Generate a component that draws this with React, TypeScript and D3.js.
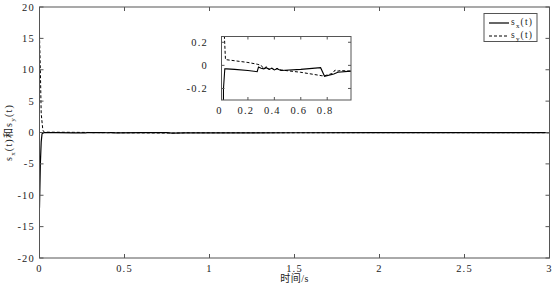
import React from 'react';
import * as d3 from 'd3';

// s_x(t): solid line
const sxTime = [0, 0.005, 0.01, 0.015, 0.025, 0.04, 0.1, 0.2, 0.27, 0.28, 0.3, 0.32, 0.34, 0.36, 0.38, 0.4, 0.42, 0.45, 0.6, 0.75, 0.78, 0.85, 0.88, 0.98, 1.5, 2, 2.5, 3];
const sxValue = [-12, -5, -1.5, -0.2, -0.03, -0.03, -0.035, -0.045, -0.055, -0.015, -0.025, -0.03, -0.02, -0.035, -0.025, -0.04, -0.03, -0.045, -0.035, -0.02, -0.095, -0.075, -0.06, -0.05, -0.04, -0.03, -0.03, -0.03];

// s_y(t): dashed line
const syTime = [0, 0.005, 0.01, 0.02, 0.03, 0.1, 0.2, 0.27, 0.3, 0.32, 0.34, 0.36, 0.38, 0.4, 0.42, 0.45, 0.6, 0.76, 0.78, 0.84, 0.86, 0.88, 0.9, 0.98, 1.5, 2, 2.5, 3];
const syValue = [15.5, 10, 3, 0.3, 0.05, 0.04, 0.025, 0.01, 0.0, -0.03, -0.01, -0.035, -0.02, -0.04, -0.025, -0.04, -0.06, -0.09, -0.09, -0.07, -0.04, -0.05, -0.045, -0.05, -0.04, -0.03, -0.03, -0.03];

const xTicks = [0, 0.5, 1, 1.5, 2, 2.5, 3];
const yTicks = [20, 15, 10, 5, 0, -5, -10, -15, -20];
const insetXTicks = [0, 0.2, 0.4, 0.6, 0.8];
const insetYTicks = [0.2, 0, -0.2];

const W = 555;
const H = 286;
const axisColor = '#555';
const font = '"Liberation Serif", "Noto Sans CJK SC", serif';
const ls = 1.2; // wide spacing like the original's half-width glyphs

const sx = sxTime.map((t, i) => [t, sxValue[i]] as [number, number]);
const sy = syTime.map((t, i) => [t, syValue[i]] as [number, number]);

const App = () => {
  const x = d3.scaleLinear().domain([0, 3]).range([39.5, 549.5]);
  const y = d3.scaleLinear().domain([-20, 20]).range([258, 7]);

  const ix = d3.scaleLinear().domain([0, 0.98]).range([221.5, 351]);
  const iy = d3.scaleLinear().domain([-0.3, 0.25]).range([100, 36.5]);

  const line = d3.line().x(d => x(d[0])).y(d => y(d[1]));
  const iline = d3.line().x(d => ix(d[0])).y(d => iy(d[1]));

  const tl = 4;

  return (
    <svg width={W} height={H} style={{ position: 'absolute', left: 0, top: 0, background: '#fff' }}
      fontFamily={font}>
      <defs>
        <clipPath id="main-clip">
          <rect x={x(0)} y={y(20)} width={x(3) - x(0)} height={y(-20) - y(20)} />
        </clipPath>
        <clipPath id="inset-clip">
          <rect x={ix(0)} y={iy(0.25)} width={ix(0.98) - ix(0)} height={iy(-0.3) - iy(0.25)} />
        </clipPath>
      </defs>

      {/* main axes */}
      <rect x={x(0)} y={y(20)} width={x(3) - x(0)} height={y(-20) - y(20)} fill="#fff" />
      <g clipPath="url(#main-clip)" fill="none" stroke="#000">
        <path d={line(sx) || ''} strokeWidth={1.2} />
        <path d={line(sy) || ''} strokeWidth={1} strokeDasharray="3,2" />
      </g>
      <rect x={x(0)} y={y(20)} width={x(3) - x(0)} height={y(-20) - y(20)} fill="none" stroke={axisColor} strokeWidth={1} />
      {xTicks.map(t => (
        <g key={'xt' + t}>
          <line x1={x(t)} x2={x(t)} y1={y(-20)} y2={y(-20) - tl} stroke={axisColor} />
          <line x1={x(t)} x2={x(t)} y1={y(20)} y2={y(20) + tl} stroke={axisColor} />
          <text x={x(t)} y={272} fontSize={10.5} letterSpacing={ls} textAnchor="middle" fill="#222">{String(t)}</text>
        </g>
      ))}
      {yTicks.map(v => (
        <g key={'yt' + v}>
          <line x1={x(0)} x2={x(0) + tl} y1={y(v)} y2={y(v)} stroke={axisColor} />
          <line x1={x(3)} x2={x(3) - tl} y1={y(v)} y2={y(v)} stroke={axisColor} />
          <text x={35} y={y(v) + 3.5} fontSize={10.5} letterSpacing={ls} textAnchor="end" fill="#222">{String(v)}</text>
        </g>
      ))}
      <text x={(x(0) + x(3)) / 2} y={282} fontSize={10} letterSpacing={0.5} textAnchor="middle" fill="#222">时间/s</text>
      <text transform={`translate(12,${(y(20) + y(-20)) / 2}) rotate(-90)`} fontSize={10} letterSpacing={ls} textAnchor="middle" fill="#222">
        s<tspan fontSize={7} dy={3}>x</tspan><tspan dy={-3}>(t)和s</tspan><tspan fontSize={7} dy={3}>y</tspan><tspan dy={-3}>(t)</tspan>
      </text>

      {/* legend */}
      <rect x={484} y={13.5} width={53} height={28} fill="#fff" stroke={axisColor} />
      <line x1={489} x2={509} y1={23} y2={23} stroke="#000" strokeWidth={1.2} />
      <line x1={489} x2={509} y1={36} y2={36} stroke="#000" strokeDasharray="3,2" />
      <text x={511} y={25} fontSize={9.5} letterSpacing={ls} fill="#222">s<tspan fontSize={7} dy={2.5}>x</tspan><tspan dy={-2.5}>(t)</tspan></text>
      <text x={511} y={38} fontSize={9.5} letterSpacing={ls} fill="#222">s<tspan fontSize={7} dy={2.5}>y</tspan><tspan dy={-2.5}>(t)</tspan></text>

      {/* inset axes */}
      <rect x={ix(0)} y={iy(0.25)} width={ix(0.98) - ix(0)} height={iy(-0.3) - iy(0.25)} fill="#fff" />
      <g clipPath="url(#inset-clip)" fill="none" stroke="#000">
        <path d={iline(sx) || ''} strokeWidth={1.1} />
        <path d={iline(sy) || ''} strokeWidth={1} strokeDasharray="3,2" />
      </g>
      <rect x={ix(0)} y={iy(0.25)} width={ix(0.98) - ix(0)} height={iy(-0.3) - iy(0.25)} fill="none" stroke={axisColor} />
      {insetXTicks.map(t => (
        <g key={'ixt' + t}>
          <line x1={ix(t)} x2={ix(t)} y1={iy(-0.3)} y2={iy(-0.3) - 3} stroke={axisColor} />
          <line x1={ix(t)} x2={ix(t)} y1={iy(0.25)} y2={iy(0.25) + 3} stroke={axisColor} />
          <text x={ix(t) - 2} y={114} fontSize={10.5} letterSpacing={ls} textAnchor="middle" fill="#222">{String(t)}</text>
        </g>
      ))}
      {insetYTicks.map(v => (
        <g key={'iyt' + v}>
          <line x1={ix(0)} x2={ix(0) + 3} y1={iy(v)} y2={iy(v)} stroke={axisColor} />
          <line x1={ix(0.98)} x2={ix(0.98) - 3} y1={iy(v)} y2={iy(v)} stroke={axisColor} />
          <text x={208} y={iy(v) + 3.5} fontSize={10.5} letterSpacing={ls} textAnchor="end" fill="#222">{String(v)}</text>
        </g>
      ))}
    </svg>
  );
};

export default App;
